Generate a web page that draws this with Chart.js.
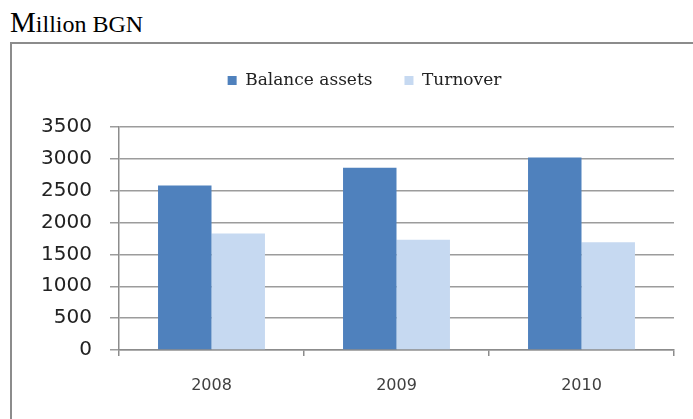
<!DOCTYPE html>
<html>
<head>
<meta charset="utf-8">
<script src="https://cdn.jsdelivr.net/npm/chart.js@4/dist/chart.umd.min.js"></script>
<style>
  html, body { margin: 0; padding: 0; background: #ffffff; }
  body { width: 693px; height: 419px; position: relative; overflow: hidden; }
  #heading {
    position: absolute; left: 10px; top: 8px;
    font-family: "Liberation Serif", "Times New Roman", serif;
    color: #000; white-space: nowrap; line-height: 1;
  }
  #heading .big { font-size: 29px; }
  #heading .small { font-size: 24px; }
  #frame {
    position: absolute; left: 10px; top: 42px; width: 720px; height: 420px;
    border-top: 2px solid #8c8c8c; border-left: 2px solid #8c8c8c;
  }
  #chart { position: absolute; left: 0; top: 0; }
</style>
</head>
<body>
<div id="heading"><span class="big">M</span><span class="small">illion BGN</span></div>
<div id="frame"></div>
<canvas id="chart" width="693" height="419"></canvas>
<script>
// Years on the category axis
const categories = ['2008', '2009', '2010'];
// Million BGN per year
const balanceAssets = [2580, 2860, 3020];
const turnover = [1830, 1730, 1690];
// Value axis
const yTicks = [0, 500, 1000, 1500, 2000, 2500, 3000, 3500];

// Empty layout boxes: a gap under the legend and a margin right of the plot
function makeGap(position, size, weight, fullSize) {
  const horizontal = position === 'top' || position === 'bottom';
  return {
    position, weight, fullSize, options: {},
    left: 0, top: 0, right: 0, bottom: 0, width: 0, height: 0,
    update(maxWidth, maxHeight) {
      if (horizontal) { this.width = maxWidth; this.height = size; }
      else { this.width = size; this.height = maxHeight; }
    },
    isHorizontal() { return horizontal; },
    getPadding() { return { left: 0, right: 0, top: 0, bottom: 0 }; },
    draw() {}
  };
}

const spacing = {
  id: 'spacing',
  start(chart, args, opts) {
    Chart.layouts.addBox(chart, makeGap('top', opts.belowLegend, 900, true));
    Chart.layouts.addBox(chart, makeGap('right', opts.rightOfPlot, 0, false));
  },
  defaults: { belowLegend: 28, rightOfPlot: 19 }
};

new Chart(document.getElementById('chart'), {
  type: 'bar',
  data: {
    labels: categories,
    datasets: [
      { label: 'Balance assets', data: balanceAssets, backgroundColor: '#4f81bd' },
      { label: 'Turnover', data: turnover, backgroundColor: '#c6d9f1' }
    ]
  },
  plugins: [spacing],
  options: {
    responsive: false,
    animation: false,
    devicePixelRatio: 1,
    layout: { padding: { left: 36, right: 0, top: 40, bottom: 0 } },
    datasets: { bar: { barPercentage: 1, categoryPercentage: 0.578 } },
    plugins: {
      spacing: { belowLegend: 28, rightOfPlot: 19 },
      tooltip: { enabled: false },
      legend: {
        position: 'top',
        labels: {
          boxWidth: 9, boxHeight: 9, padding: 32,
          color: '#222222',
          font: { family: 'DejaVu Serif', size: 17 }
        }
      }
    },
    scales: {
      x: {
        grid: { display: true, drawOnChartArea: false, drawTicks: true, tickLength: 6, color: '#8c8c8c', lineWidth: 1.5 },
        border: { display: true, color: '#8c8c8c', width: 1.5 },
        ticks: { color: '#404040', padding: 20, font: { family: 'DejaVu Sans', size: 16 } },
        afterFit(scale) { scale.height = 69; }
      },
      y: {
        min: 0, max: 3500,
        afterBuildTicks(scale) { scale.ticks = yTicks.map(v => ({ value: v })); },
        grid: { color: '#9c9c9c', lineWidth: 1.5, tickLength: 9, drawTicks: true },
        border: { display: true, color: '#8c8c8c', width: 1.5 },
        ticks: {
          color: '#222222', padding: 18, font: { family: 'DejaVu Sans', size: 20 },
          callback: (value) => String(value)
        },
        afterFit(scale) { scale.width = 83; }
      }
    }
  }
});
</script>
</body>
</html>
